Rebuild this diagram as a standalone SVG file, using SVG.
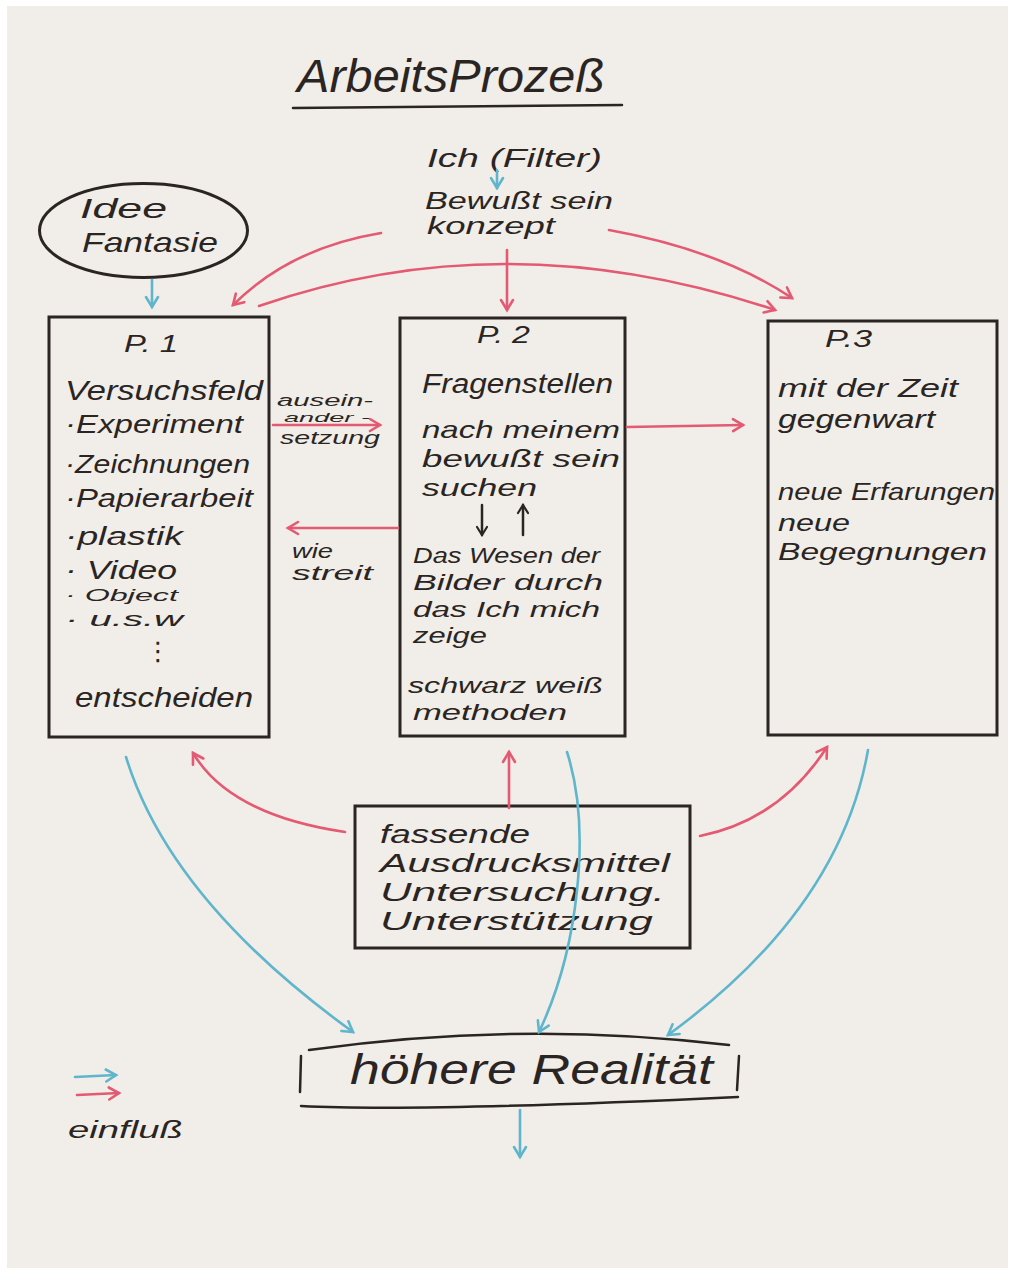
<svg xmlns="http://www.w3.org/2000/svg" width="1011" height="1272" viewBox="0 0 1011 1272">
<style>
.t{font-family:"Liberation Sans","DejaVu Sans",sans-serif;fill:#2a2522;font-style:italic}
.box{fill:none;stroke:#2a2522;stroke-width:3}
.red{fill:none;stroke:#e35a72;stroke-width:2.6;stroke-linecap:round}
.blue{fill:none;stroke:#5fb6cc;stroke-width:2.6;stroke-linecap:round}
.ink{fill:none;stroke:#2a2522;stroke-width:2.5;stroke-linecap:round}
</style>
<defs>
<marker id="ar" markerUnits="userSpaceOnUse" markerWidth="16" markerHeight="16" refX="13" refY="8" orient="auto">
<path d="M3,2 L13,8 L3,14" fill="none" stroke="#e35a72" stroke-width="2.6" stroke-linecap="round"/>
</marker>
<marker id="ab" markerUnits="userSpaceOnUse" markerWidth="16" markerHeight="16" refX="13" refY="8" orient="auto">
<path d="M3,2 L13,8 L3,14" fill="none" stroke="#5fb6cc" stroke-width="2.6" stroke-linecap="round"/>
</marker>
<marker id="ak" markerUnits="userSpaceOnUse" markerWidth="14" markerHeight="14" refX="11" refY="7" orient="auto">
<path d="M3,2 L11,7 L3,12" fill="none" stroke="#2a2522" stroke-width="2.2" stroke-linecap="round"/>
</marker>
</defs>
<rect x="0" y="0" width="1011" height="1272" fill="#ffffff"/>
<rect x="7" y="6" width="1001" height="1262" fill="#f1ede8"/>

<g id="title">
<text class="t" x="297" y="92" font-size="46" textLength="308" lengthAdjust="spacingAndGlyphs">ArbeitsProzeß</text>
<path d="M293,108 L622,105" class="ink" stroke-width="3.5"/>
</g>

<g id="ich">
<text class="t" x="427" y="167" font-size="26" textLength="175" lengthAdjust="spacingAndGlyphs">Ich (Filter)</text>
<text class="t" x="425" y="209" font-size="23" textLength="188" lengthAdjust="spacingAndGlyphs">Bewußt sein</text>
<text class="t" x="427" y="234" font-size="23" textLength="128" lengthAdjust="spacingAndGlyphs">konzept</text>
</g>

<g id="idee">
<ellipse cx="143.5" cy="230.5" rx="104" ry="47" class="box"/>
<text class="t" x="80" y="218" font-size="28" textLength="87" lengthAdjust="spacingAndGlyphs">Idee</text>
<text class="t" x="82" y="252" font-size="28" textLength="136" lengthAdjust="spacingAndGlyphs">Fantasie</text>
</g>

<g id="p1">
<rect x="49" y="317" width="220" height="420" class="box"/>
<text class="t" x="124" y="352" font-size="24" textLength="54" lengthAdjust="spacingAndGlyphs">P. 1</text>
<text class="t" x="65" y="400" font-size="28" textLength="198" lengthAdjust="spacingAndGlyphs">Versuchsfeld</text>
<text class="t" x="65" y="433" font-size="26" textLength="178" lengthAdjust="spacingAndGlyphs">·Experiment</text>
<text class="t" x="65" y="473" font-size="26" textLength="185" lengthAdjust="spacingAndGlyphs">·Zeichnungen</text>
<text class="t" x="65" y="507" font-size="26" textLength="188" lengthAdjust="spacingAndGlyphs">·Papierarbeit</text>
<text class="t" x="65" y="545" font-size="26" textLength="118" lengthAdjust="spacingAndGlyphs">·plastik</text>
<text class="t" x="65" y="579" font-size="26" textLength="112" lengthAdjust="spacingAndGlyphs">· Video</text>
<text class="t" x="65" y="601" font-size="17" textLength="113" lengthAdjust="spacingAndGlyphs">· Object</text>
<text class="t" x="65" y="626" font-size="21" textLength="118" lengthAdjust="spacingAndGlyphs">·  u.s.w</text>
<text class="t" x="145" y="660" font-size="26">⋮</text>
<text class="t" x="75" y="707" font-size="28" textLength="178" lengthAdjust="spacingAndGlyphs">entscheiden</text>
</g>

<g id="p2">
<rect x="400" y="318" width="225" height="418" class="box"/>
<text class="t" x="477" y="343" font-size="24" textLength="53" lengthAdjust="spacingAndGlyphs">P. 2</text>
<text class="t" x="422" y="393" font-size="27" textLength="191" lengthAdjust="spacingAndGlyphs">Fragenstellen</text>
<text class="t" x="422" y="438" font-size="24" textLength="198" lengthAdjust="spacingAndGlyphs">nach meinem</text>
<text class="t" x="422" y="467" font-size="24" textLength="198" lengthAdjust="spacingAndGlyphs">bewußt sein</text>
<text class="t" x="422" y="496" font-size="24" textLength="115" lengthAdjust="spacingAndGlyphs">suchen</text>
<path d="M482,505 L482,535" class="ink" marker-end="url(#ak)"/>
<path d="M523,535 L523,505" class="ink" marker-end="url(#ak)"/>
<text class="t" x="413" y="563" font-size="22" textLength="187" lengthAdjust="spacingAndGlyphs">Das Wesen der</text>
<text class="t" x="413" y="590" font-size="22" textLength="190" lengthAdjust="spacingAndGlyphs">Bilder durch</text>
<text class="t" x="413" y="617" font-size="22" textLength="187" lengthAdjust="spacingAndGlyphs">das Ich mich</text>
<text class="t" x="413" y="643" font-size="22" textLength="74" lengthAdjust="spacingAndGlyphs">zeige</text>
<text class="t" x="408" y="693" font-size="22" textLength="195" lengthAdjust="spacingAndGlyphs">schwarz weiß</text>
<text class="t" x="413" y="720" font-size="22" textLength="154" lengthAdjust="spacingAndGlyphs">methoden</text>
</g>

<g id="p3">
<rect x="768" y="321" width="229" height="414" class="box"/>
<text class="t" x="825" y="347" font-size="24" textLength="47" lengthAdjust="spacingAndGlyphs">P.3</text>
<text class="t" x="778" y="397" font-size="26" textLength="180" lengthAdjust="spacingAndGlyphs">mit der Zeit</text>
<text class="t" x="778" y="428" font-size="26" textLength="157" lengthAdjust="spacingAndGlyphs">gegenwart</text>
<text class="t" x="778" y="500" font-size="24" textLength="217" lengthAdjust="spacingAndGlyphs">neue Erfarungen</text>
<text class="t" x="778" y="531" font-size="24" textLength="72" lengthAdjust="spacingAndGlyphs">neue</text>
<text class="t" x="778" y="560" font-size="24" textLength="209" lengthAdjust="spacingAndGlyphs">Begegnungen</text>
</g>

<g id="mittel">
<rect x="355" y="806" width="335" height="142" class="box"/>
<text class="t" x="380" y="843" font-size="25" textLength="150" lengthAdjust="spacingAndGlyphs">fassende</text>
<text class="t" x="380" y="872" font-size="25" textLength="290" lengthAdjust="spacingAndGlyphs">Ausdrucksmittel</text>
<text class="t" x="380" y="901" font-size="25" textLength="285" lengthAdjust="spacingAndGlyphs">Untersuchung.</text>
<text class="t" x="380" y="930" font-size="25" textLength="273" lengthAdjust="spacingAndGlyphs">Unterstützung</text>
</g>

<g id="realitaet">
<path d="M309,1050 Q520,1020 729,1045" class="ink" stroke-width="3"/>
<path d="M301,1106 Q420,1112 738,1097" class="ink" stroke-width="3.5"/>
<path d="M301,1056 L300,1092" class="ink"/>
<path d="M739,1056 L737,1090" class="ink"/>
<text class="t" x="350" y="1084" font-size="42" textLength="363" lengthAdjust="spacingAndGlyphs">höhere Realität</text>
</g>

<g id="legende">
<text class="t" x="68" y="1138" font-size="24" textLength="115" lengthAdjust="spacingAndGlyphs">einfluß</text>
</g>

<g id="connectors">
<text class="t" x="277" y="406" font-size="16" textLength="96" lengthAdjust="spacingAndGlyphs">ausein-</text>
<text class="t" x="284" y="422" font-size="13" textLength="86" lengthAdjust="spacingAndGlyphs">ander -</text>
<text class="t" x="280" y="444" font-size="19" textLength="100" lengthAdjust="spacingAndGlyphs">setzung</text>
<text class="t" x="292" y="558" font-size="20" textLength="41" lengthAdjust="spacingAndGlyphs">wie</text>
<text class="t" x="292" y="580" font-size="20" textLength="81" lengthAdjust="spacingAndGlyphs">streit</text>

<path d="M381,233 Q290,248 233,305" class="red" marker-end="url(#ar)"/>
<path d="M259,306 Q507,220 775,310" class="red" marker-end="url(#ar)"/>
<path d="M609,230 Q720,250 792,298" class="red" marker-end="url(#ar)"/>
<path d="M507,250 L507,310" class="red" marker-end="url(#ar)"/>
<path d="M273,425 L380,425" class="red" marker-end="url(#ar)"/>
<path d="M398,528 L288,528" class="red" marker-end="url(#ar)"/>
<path d="M627,427 L743,425" class="red" marker-end="url(#ar)"/>
<path d="M345,832 Q230,815 193,753" class="red" marker-end="url(#ar)"/>
<path d="M509,808 L509,752" class="red" marker-end="url(#ar)"/>
<path d="M700,836 Q780,820 827,747" class="red" marker-end="url(#ar)"/>

<path d="M497,170 L497,188" class="blue" marker-end="url(#ab)"/>
<path d="M152,280 L152,307" class="blue" marker-end="url(#ab)"/>
<path d="M126,757 Q170,900 353,1032" class="blue" marker-end="url(#ab)"/>
<path d="M567,752 C592,830 578,950 539,1032" class="blue" marker-end="url(#ab)"/>
<path d="M868,750 Q840,910 668,1035" class="blue" marker-end="url(#ab)"/>
<path d="M520,1110 L520,1157" class="blue" marker-end="url(#ab)"/>

<path d="M75,1077 L116,1075" class="blue" marker-end="url(#ab)"/>
<path d="M77,1095 L119,1093" class="red" marker-end="url(#ar)"/>
</g>
</svg>
